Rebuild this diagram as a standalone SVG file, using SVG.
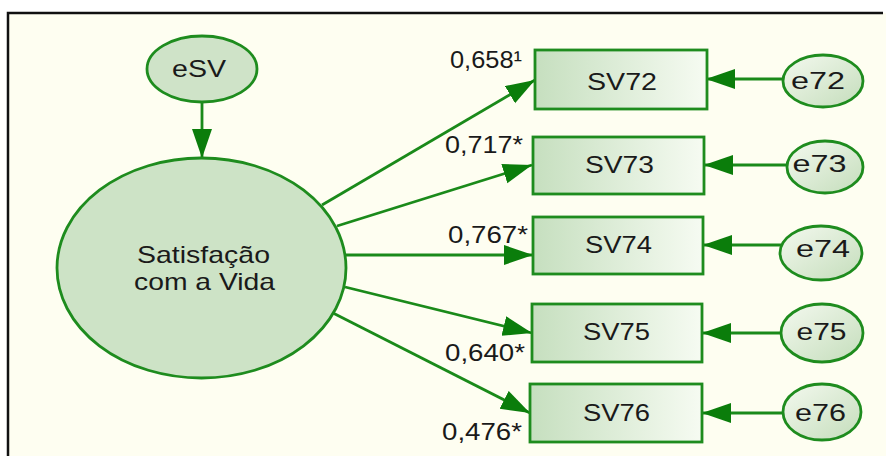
<svg xmlns="http://www.w3.org/2000/svg" width="886" height="456" viewBox="0 0 886 456">
<defs>
<style>
.t{font-family:"Liberation Sans",Arial,sans-serif;font-size:24px;fill:#1a1a1a;}
.n{stroke:#1e8c1e;stroke-width:2.8;}
.c{stroke:#1a8a1a;stroke-width:2.8;fill:none;}
</style>
<linearGradient id="gR" x1="0" y1="0" x2="1" y2="0">
<stop offset="0" stop-color="#c6dfbf"/>
<stop offset="1" stop-color="#f6fbf2"/>
</linearGradient>
<linearGradient id="gE" x1="0" y1="0" x2="1" y2="1">
<stop offset="0" stop-color="#f4f9ef"/>
<stop offset="1" stop-color="#c4ddbb"/>
</linearGradient>
<marker id="ah" markerUnits="userSpaceOnUse" markerWidth="32" markerHeight="22" refX="29" refY="10" orient="auto">
<path d="M0,0 L29,10 L0,20 Z" fill="#0b7d0b"/>
</marker>
</defs>
<rect x="0" y="0" width="886" height="456" fill="#ffffff"/>
<rect x="8" y="13" width="878" height="443" fill="#fefef1"/>
<path d="M8,456 V13 H883" fill="none" stroke="#111" stroke-width="2.5"/>

<g id="connectors">
<line class="c" x1="202" y1="102" x2="202" y2="158" marker-end="url(#ah)"/>
<line class="c" x1="322" y1="205" x2="535" y2="80" marker-end="url(#ah)"/>
<line class="c" x1="337" y1="226" x2="532" y2="165" marker-end="url(#ah)"/>
<line class="c" x1="345" y1="255" x2="533" y2="255" marker-end="url(#ah)"/>
<line class="c" x1="345" y1="287" x2="532" y2="333" marker-end="url(#ah)"/>
<line class="c" x1="333" y1="313" x2="530" y2="413" marker-end="url(#ah)"/>
<line class="c" x1="782" y1="79" x2="706" y2="79" marker-end="url(#ah)"/>
<line class="c" x1="786" y1="165" x2="704" y2="165" marker-end="url(#ah)"/>
<line class="c" x1="781" y1="245" x2="703" y2="245" marker-end="url(#ah)"/>
<line class="c" x1="781" y1="333" x2="702" y2="333" marker-end="url(#ah)"/>
<line class="c" x1="783" y1="413" x2="702" y2="413" marker-end="url(#ah)"/>
</g>

<g id="eSV">
<ellipse class="n" cx="202" cy="69" rx="55" ry="33" fill="#cfe3c8"/>
<text class="t" x="199" y="77" text-anchor="middle" textLength="54" lengthAdjust="spacingAndGlyphs">eSV</text>
</g>

<g id="SatisfacaoComAVida">
<ellipse class="n" cx="201.5" cy="268" rx="144.5" ry="110" fill="#cde3c6"/>
<text class="t" x="203.5" y="263" text-anchor="middle" textLength="133" lengthAdjust="spacingAndGlyphs">Satisfação</text>
<text class="t" x="204.5" y="290" text-anchor="middle" textLength="141" lengthAdjust="spacingAndGlyphs">com a Vida</text>
</g>

<g id="SV72">
<rect class="n" x="535" y="50" width="172" height="59" fill="url(#gR)"/>
<text class="t" x="622" y="90" text-anchor="middle" textLength="70" lengthAdjust="spacingAndGlyphs">SV72</text>
</g>
<g id="SV73">
<rect class="n" x="533" y="137" width="171" height="57" fill="url(#gR)"/>
<text class="t" x="619.5" y="173" text-anchor="middle" textLength="69" lengthAdjust="spacingAndGlyphs">SV73</text>
</g>
<g id="SV74">
<rect class="n" x="533" y="217" width="170" height="57" fill="url(#gR)"/>
<text class="t" x="618.5" y="253" text-anchor="middle" textLength="67" lengthAdjust="spacingAndGlyphs">SV74</text>
</g>
<g id="SV75">
<rect class="n" x="532" y="304" width="170" height="58" fill="url(#gR)"/>
<text class="t" x="616.5" y="340" text-anchor="middle" textLength="67" lengthAdjust="spacingAndGlyphs">SV75</text>
</g>
<g id="SV76">
<rect class="n" x="530" y="384" width="172" height="58" fill="url(#gR)"/>
<text class="t" x="616.5" y="421" text-anchor="middle" textLength="67" lengthAdjust="spacingAndGlyphs">SV76</text>
</g>

<g id="e72">
<ellipse class="n" cx="823" cy="81" rx="40" ry="26" fill="url(#gE)"/>
<text class="t" x="818" y="89" text-anchor="middle" textLength="54" lengthAdjust="spacingAndGlyphs">e72</text>
</g>
<g id="e73">
<ellipse class="n" cx="825" cy="167" rx="38" ry="26" fill="url(#gE)"/>
<text class="t" x="819.5" y="172" text-anchor="middle" textLength="54" lengthAdjust="spacingAndGlyphs">e73</text>
</g>
<g id="e74">
<ellipse class="n" cx="821" cy="253" rx="41" ry="27" fill="url(#gE)"/>
<text class="t" x="823" y="257" text-anchor="middle" textLength="54" lengthAdjust="spacingAndGlyphs">e74</text>
</g>
<g id="e75">
<ellipse class="n" cx="822" cy="333" rx="41" ry="29" fill="url(#gE)"/>
<text class="t" x="821.5" y="340" text-anchor="middle" textLength="50" lengthAdjust="spacingAndGlyphs">e75</text>
</g>
<g id="e76">
<ellipse class="n" cx="822" cy="412" rx="39" ry="28" fill="url(#gE)"/>
<text class="t" x="820.5" y="421" text-anchor="middle" textLength="51" lengthAdjust="spacingAndGlyphs">e76</text>
</g>

<g id="labels">
<text class="t" x="450" y="68" textLength="72" lengthAdjust="spacingAndGlyphs">0,658¹</text>
<text class="t" x="445" y="153" textLength="78" lengthAdjust="spacingAndGlyphs">0,717*</text>
<text class="t" x="448" y="243" textLength="80" lengthAdjust="spacingAndGlyphs">0,767*</text>
<text class="t" x="445" y="361" textLength="80" lengthAdjust="spacingAndGlyphs">0,640*</text>
<text class="t" x="442" y="440" textLength="80" lengthAdjust="spacingAndGlyphs">0,476*</text>
</g>
</svg>
